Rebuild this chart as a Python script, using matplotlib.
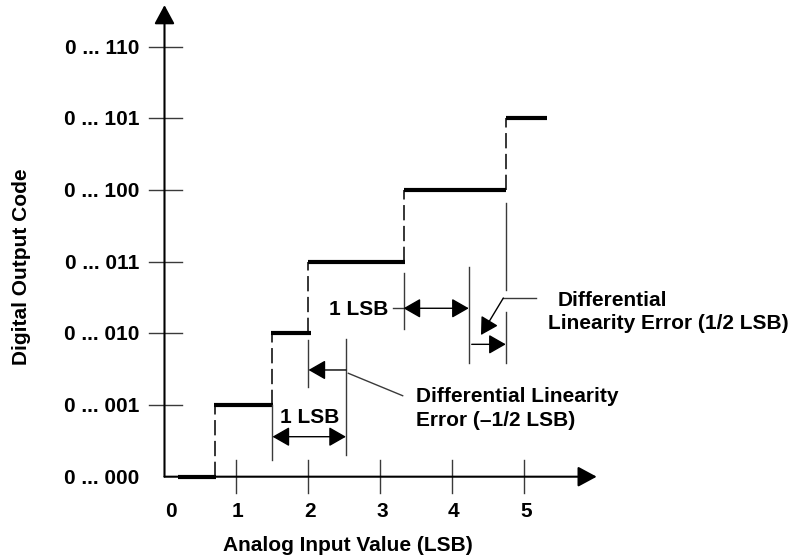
import matplotlib
matplotlib.use("Agg")
import matplotlib.pyplot as plt

plt.rcParams['font.family'] = ['Liberation Sans', 'DejaVu Sans']
plt.rcParams['font.weight'] = 'bold'
plt.rcParams['lines.scale_dashes'] = False

# ---- data ----
codes = [0, 1, 2, 3, 4, 5]
step_start = [0.19, 0.69, 1.48, 1.99, 3.32, 4.74]
step_end = [0.71, 1.51, 2.03, 3.34, 4.74, 5.31]
transitions = [0.705, 1.50, 2.00, 3.32, 4.74]      # dashed risers code k -> k+1
y_tick_values = [0, 1, 2, 3, 4, 5, 6]
y_tick_labels = ['0 ... 000', '0 ... 001', '0 ... 010', '0 ... 011',
                 '0 ... 100', '0 ... 101', '0 ... 110']
x_tick_values = [1, 2, 3, 4, 5]
x_label_values = [0, 1, 2, 3, 4, 5]
x_label_text = ['0', '1', '2', '3', '4', '5']

FS = 15
INK = 'black'
THIN = '#3a3a3a'

fig = plt.figure(figsize=(7.95, 5.58), dpi=100)
ax = fig.add_axes([0, 0, 1, 1])
ax.set_xlim(-2.2847, 8.757)
ax.set_ylim(-1.1344, 6.6513)
ax.axis('off')

# axes with arrows
ax.annotate('', xy=(0, 6.58), xytext=(0, 0),
            arrowprops=dict(arrowstyle='-|>,head_length=11.5,head_width=6.2',
                            mutation_scale=1, lw=1.5, color=INK,
                            shrinkA=0, shrinkB=0))
ax.annotate('', xy=(6.003, 0), xytext=(0, 0),
            arrowprops=dict(arrowstyle='-|>,head_length=11.5,head_width=6.2',
                            mutation_scale=1, lw=1.5, color=INK,
                            shrinkA=0, shrinkB=0))

# ticks
for v in y_tick_values[1:]:
    ax.plot([-0.215, 0.239], [v, v], color=THIN, lw=1.0)
for v in x_tick_values:
    ax.plot([v, v], [-0.223, 0.233], color=THIN, lw=1.0)

# tick labels
for v, t in zip(y_tick_values, y_tick_labels):
    ax.text(-0.35, v - 0.02, t, ha='right', va='center', fontsize=FS, fontweight='bold')
for v, t in zip(x_label_values, x_label_text):
    xx = v + 0.086 if v == 0 else v + 0.02
    ax.text(xx, -0.488, t, ha='center', va='center', fontsize=FS, fontweight='bold')

ax.text(2.549, -0.954, 'Analog Input Value (LSB)', ha='center', va='center',
        fontsize=FS, fontweight='bold')
ax.text(-1.993, 2.933, 'Digital Output Code', ha='center', va='center',
        rotation=90, fontsize=FS, fontweight='bold')

# staircase
for c, s, e in zip(codes, step_start, step_end):
    ax.plot([s, e], [c, c], color=INK, lw=3.0, solid_capstyle='butt')

# dashed risers
for k, t in enumerate(transitions):
    ax.plot([t, t], [k, k + 1], color=INK, lw=1.1, dashes=(11, 4))

# solid extension lines
ext = [
    (1.50, 0.233, 1.0),
    (2.00, 1.252, 1.907),
    (2.52, 0.303, 1.921),
    (3.32, 2.066, 2.847),
    (4.226, 1.587, 2.931),
    (4.74, 2.605, 3.82),
    (4.74, 1.587, 2.298),
]
for x, y0, y1 in ext:
    ax.plot([x, x], [y0, y1], color=THIN, lw=1.0)

arrow2 = dict(arrowstyle='<|-|>,head_length=10.5,head_width=6', mutation_scale=1,
              lw=1.0, color=INK, shrinkA=0, shrinkB=0)
arrow1 = dict(arrowstyle='-|>,head_length=10.5,head_width=6', mutation_scale=1,
              lw=1.0, color=INK, shrinkA=0, shrinkB=0)

# bottom 1 LSB
ax.annotate('', xy=(2.52, 0.558), xytext=(1.50, 0.558), arrowprops=arrow2)
ax.text(2.021, 0.829, '1 LSB', ha='center', va='center', fontsize=FS, fontweight='bold')

# -1/2 LSB arrow
ax.annotate('', xy=(2.00, 1.489), xytext=(2.52, 1.489), arrowprops=arrow1)
ax.plot([2.553, 3.308], [1.443, 1.130], color=THIN, lw=1.0)
ax.text(3.493, 1.116, 'Differential Linearity', ha='left', va='center',
        fontsize=FS, fontweight='bold')
ax.text(3.493, 0.791, 'Error (\u20131/2 LSB)', ha='left', va='center',
        fontsize=FS, fontweight='bold')

# upper 1 LSB
ax.annotate('', xy=(4.226, 2.35), xytext=(3.32, 2.35), arrowprops=arrow2)
ax.plot([3.178, 3.32], [2.35, 2.35], color=THIN, lw=1.0)
ax.text(2.694, 2.326, '1 LSB', ha='center', va='center', fontsize=FS, fontweight='bold')

# +1/2 LSB
ax.annotate('', xy=(4.74, 1.847), xytext=(4.267, 1.847), arrowprops=arrow1)
ax.annotate('', xy=(4.396, 1.977), xytext=(4.706, 2.493), arrowprops=arrow1)
ax.plot([4.706, 5.16], [2.493, 2.493], color=THIN, lw=1.0)
ax.text(5.456, 2.456, 'Differential', ha='left', va='center',
        fontsize=FS, fontweight='bold')
ax.text(5.331, 2.140, 'Linearity Error (1/2 LSB)', ha='left', va='center',
        fontsize=FS, fontweight='bold')

fig.savefig('out.png', dpi=100)
